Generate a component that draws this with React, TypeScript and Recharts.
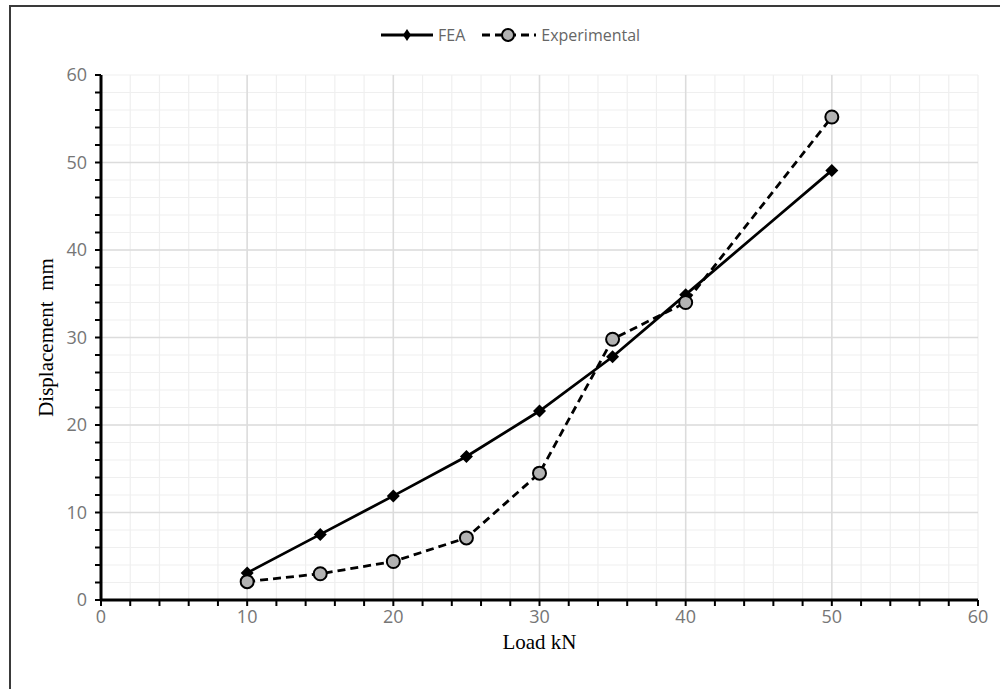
import { LineChart, Line, XAxis, YAxis, CartesianGrid, ReferenceLine, Label } from "recharts";

const loads = [10, 15, 20, 25, 30, 35, 40, 50];
const feaDisp = [3.1, 7.5, 11.9, 16.4, 21.6, 27.8, 34.9, 49.1];
const expDisp = [2.1, 3.0, 4.4, 7.1, 14.5, 29.8, 34.0, 55.2];

const xTicks = [0, 2, 4, 6, 8, 10, 12, 14, 16, 18, 20, 22, 24, 26, 28, 30, 32, 34, 36, 38, 40, 42, 44, 46, 48, 50, 52, 54, 56, 58, 60];
const yTicks = [0, 2, 4, 6, 8, 10, 12, 14, 16, 18, 20, 22, 24, 26, 28, 30, 32, 34, 36, 38, 40, 42, 44, 46, 48, 50, 52, 54, 56, 58, 60];
const majorX = [10, 20, 30, 40, 50];
const majorY = [10, 20, 30, 40, 50];

const data = loads.map((load, i) => ({ load, fea: feaDisp[i], experimental: expDisp[i] }));

const tickGray = "#767676";
const sans = "'Open Sans', 'Liberation Sans', sans-serif";
const serif = "'Liberation Serif', 'DejaVu Serif', serif";

const onlyTens = (v: number) => (v % 10 === 0 ? String(v) : "");

function Diamond(props: any) {
  const { cx, cy, index } = props;
  if (cx == null || cy == null) return null;
  const s = 6.5;
  return (
    <path
      key={`d-${index}`}
      d={`M${cx},${cy - s} L${cx + s},${cy} L${cx},${cy + s} L${cx - s},${cy} Z`}
      fill="#000"
    />
  );
}

function Circle(props: any) {
  const { cx, cy, index } = props;
  if (cx == null || cy == null) return null;
  return <circle key={`c-${index}`} cx={cx} cy={cy} r={6.5} fill="#b3b3b3" stroke="#000" strokeWidth={2} />;
}

function LegendBar() {
  return (
    <div style={{ position: "absolute", left: 380, top: 24, display: "flex", alignItems: "center", fontFamily: sans, fontSize: 16, color: "#666" }}>
      <svg width={54} height={20}>
        <line x1={1} y1={10} x2={53} y2={10} stroke="#000" strokeWidth={3} />
        <path d="M27,4 L31,10 L27,16 L23,10 Z" fill="#000" />
      </svg>
      <span style={{ marginLeft: 4, marginRight: 16 }}>FEA</span>
      <svg width={56} height={20}>
        <line x1={1} y1={10} x2={55} y2={10} stroke="#000" strokeWidth={3} strokeDasharray="8 5" />
        <circle cx={27} cy={10} r={6} fill="#b3b3b3" stroke="#000" strokeWidth={2} />
      </svg>
      <span style={{ marginLeft: 4 }}>Experimental</span>
    </div>
  );
}

export default function App() {
  return (
    <div style={{ position: "fixed", left: 0, top: 0, width: 1000, height: 689, overflow: "hidden", background: "#fff" }}>
      <div style={{ position: "absolute", left: 9, top: 5, width: 1100, height: 800, borderLeft: "2px solid #3a3a3a", borderTop: "2px solid #3a3a3a" }} />
      <LineChart width={1000} height={689} data={data} margin={{ top: 75, right: 22, left: 41, bottom: 29 }}>
        <CartesianGrid stroke="#efefef" strokeWidth={1.2} />
        {majorX.map((v) => (
          <ReferenceLine key={`mx-${v}`} x={v} stroke="#dcdcdc" strokeWidth={1.5} />
        ))}
        {majorY.map((v) => (
          <ReferenceLine key={`my-${v}`} y={v} stroke="#dcdcdc" strokeWidth={1.5} />
        ))}
        <XAxis
          dataKey="load"
          type="number"
          domain={[0, 60]}
          ticks={xTicks}
          interval={0}
          tickFormatter={onlyTens}
          axisLine={{ stroke: "#000", strokeWidth: 3 }}
          tickLine={{ stroke: "#000", strokeWidth: 2 }}
          tickSize={6}
          tickMargin={4}
          fontSize={18}
          tick={{ fill: tickGray, fontSize: 18, fontFamily: sans }}
          height={60}
        >
          <Label value="Load kN" position="insideBottom" offset={11} style={{ fill: "#000", fontSize: 21, fontFamily: serif }} />
        </XAxis>
        <YAxis
          type="number"
          domain={[0, 60]}
          ticks={yTicks}
          interval={0}
          tickFormatter={onlyTens}
          axisLine={{ stroke: "#000", strokeWidth: 3 }}
          tickLine={{ stroke: "#000", strokeWidth: 2 }}
          tickSize={6}
          tickMargin={8}
          fontSize={18}
          tick={{ fill: tickGray, fontSize: 18, fontFamily: sans }}
          width={60}
        >
          <Label
            value={"Displacement\u00a0 mm"}
            angle={-90}
            position="insideLeft"
            offset={5}
            style={{ fill: "#000", fontSize: 21, fontFamily: serif, textAnchor: "middle" }}
          />
        </YAxis>
        <Line
          type="linear"
          dataKey="fea"
          stroke="#000"
          strokeWidth={2.8}
          dot={Diamond}
          activeDot={false}
          isAnimationActive={false}
        />
        <Line
          type="linear"
          dataKey="experimental"
          stroke="#000"
          strokeWidth={2.8}
          strokeDasharray="8 5"
          dot={Circle}
          activeDot={false}
          isAnimationActive={false}
        />
      </LineChart>
      <LegendBar />
    </div>
  );
}
